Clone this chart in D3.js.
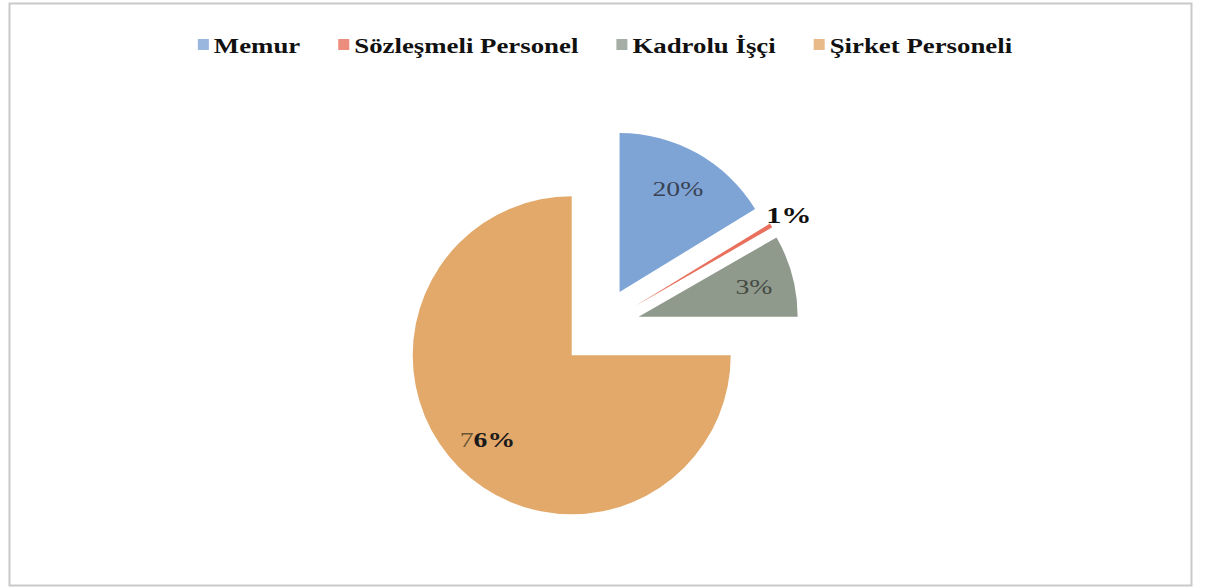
<!DOCTYPE html>
<html>
<head>
<meta charset="utf-8">
<script src="https://cdn.jsdelivr.net/npm/d3@7"></script>
<style>
  body { margin: 0; background: #fff; }
  svg { display: block; }
</style>
</head>
<body>
<script>
// Data (slice sizes from the drawn angles, labels as printed)
const categories = ["Memur", "Sözleşmeli Personel", "Kadrolu İşçi", "Şirket Personeli"];
const values = [16.25, 0.45, 8.3, 75];
const labels = ["20%", "1%", "3%", "76%"];
const colors = ["#7ea4d6", "#e8705c", "#8f9a8d", "#e2a96b"];

const width = 1205, height = 588;
const cx = 600, cy = 327;
const radius = 159;
const explode = 40;
const sx = 1.26; // text in the picture is stretched sideways
const legendSx = 1.22;

const svg = d3.select("body")
  .append("svg")
  .attr("width", width)
  .attr("height", height);

// Chart frame
svg.append("rect")
  .attr("x", 9.5).attr("y", 3.5)
  .attr("width", 1182).attr("height", 582)
  .attr("fill", "#fff")
  .attr("stroke", "#c9c9c9")
  .attr("stroke-width", 2);

// Pie
const pie = d3.pie().sort(null).value(d => d);
const arcs = pie(values);
const arc = d3.arc().innerRadius(0).outerRadius(radius);
const offset = d => {
  const a = (d.startAngle + d.endAngle) / 2;
  return [explode * Math.sin(a), -explode * Math.cos(a)];
};

const g = svg.append("g").attr("transform", "translate(" + cx + "," + cy + ")");

g.selectAll(".slice")
  .data(arcs)
  .enter()
  .append("path")
  .attr("class", "slice")
  .attr("d", arc)
  .attr("fill", (d, i) => colors[i])
  .attr("transform", d => "translate(" + offset(d) + ")");

// Data labels
const labelArcIn = d3.arc().innerRadius(radius * 0.75).outerRadius(radius * 0.75);
const labelArcOut = d3.arc().innerRadius(radius * 1.13).outerRadius(radius * 1.13);

function stretchedText(parent, x, y, size) {
  return parent.append("g")
    .attr("transform", "translate(" + x + "," + y + ") scale(" + sx + ",1)")
    .append("text")
    .attr("text-anchor", "middle")
    .attr("dy", "0.35em")
    .style("font-family", "'Liberation Serif', 'Times New Roman', serif")
    .style("font-size", size + "px");
}

arcs.forEach((d, i) => {
  const o = offset(d);
  const small = values[i] < 2;
  const p = (small ? labelArcOut : labelArcIn).centroid(d);
  const t = stretchedText(g, p[0] + o[0], p[1] + o[1], small ? 24 : 22);
  if (small) {
    t.attr("fill", "#111").style("font-weight", "bold").text(labels[i]);
  } else if (i === 3) {
    t.append("tspan").attr("fill", "#6b5534").text(labels[i].slice(0, 1));
    t.append("tspan").attr("fill", "#1a1a1a").style("font-weight", "bold").text(labels[i].slice(1));
  } else {
    t.attr("fill", i === 0 ? "#3a4252" : "#454b44").text(labels[i]);
  }
});

// Legend
const legend = svg.append("g");
let lx = 0;
categories.forEach((c, i) => {
  const item = legend.append("g");
  item.append("rect")
    .attr("x", 0).attr("y", -6)
    .attr("width", 11).attr("height", 11)
    .attr("fill", colors[i])
    .attr("opacity", 0.8);
  const t = item.append("g")
    .attr("transform", "translate(16,0) scale(" + legendSx + ",1)")
    .append("text")
    .attr("dy", "0.35em")
    .attr("fill", "#111")
    .style("font-family", "'Liberation Serif', 'Times New Roman', serif")
    .style("font-weight", "bold")
    .style("font-size", "22px")
    .text(c);
  const w = 16 + t.node().getComputedTextLength() * legendSx;
  item.attr("transform", "translate(" + lx + ",0)");
  lx += w + 38;
});
const legendWidth = lx - 38;
legend.attr("transform", "translate(" + (605 - legendWidth / 2) + ",45)");
</script>
</body>
</html>
